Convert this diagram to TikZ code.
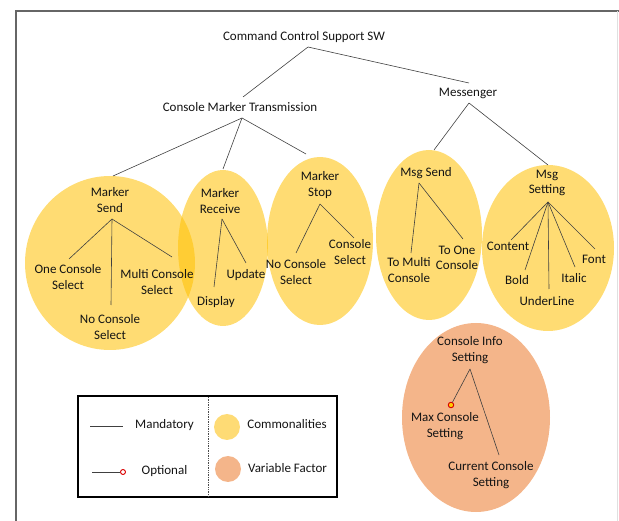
\documentclass[tikz,border=0pt]{standalone}
\usepackage{fontspec}
\setmainfont{Carlito}
\begin{document}
\begin{tikzpicture}[x=1pt,y=-1pt,
  lbl/.style={font=\fontsize{13}{15.5}\selectfont, text=black!92, align=center, inner sep=0pt},
  link/.style={draw=black!75, line width=0.6pt},
  common/.style={fill=commonfill, fill opacity=0.55},
  varfactor/.style={fill=variablefill},
  optdot/.style={circle, draw=red!85!black, line width=0.9pt, minimum size=5.5pt, inner sep=0pt},
  frame/.style={draw=black!60, line width=2pt}
]
\definecolor{commonfill}{HTML}{FFC000}
\definecolor{variablefill}{HTML}{F4B58A}
\definecolor{legendyellow}{HTML}{FEDB75}
\useasboundingbox (0,0) rectangle (619,521);

% page frame
\draw[frame] (16,521) -- (16,11) -- (619,11);
\draw[black!12, line width=0.8pt] (617.5,11) -- (617.5,521);

% feature groups
\path[common] (110,263) ellipse [x radius=85, y radius=87];
\path[common] (223,248) ellipse [x radius=45, y radius=78];
\path[common] (320,241) ellipse [x radius=53, y radius=84];
\path[common] (429,235) ellipse [x radius=53, y radius=85];
\path[common] (548,248) ellipse [x radius=66, y radius=83];
\path[varfactor] (476,417.5) ellipse [x radius=74, y radius=94.5];

% labels
\node[lbl] (root) at (304,37) {Command Control Support SW};
\node[lbl] (cmt) at (240,107) {Console Marker Transmission};
\node[lbl] (msgr) at (468,93) {Messenger};

\node[lbl] (msend) at (110,200) {Marker\\Send};
\node[lbl] (onesel) at (68,277) {One Console\\Select};
\node[lbl] (multisel) at (157,282) {Multi Console\\Select};
\node[lbl] (nosel) at (110,327) {No Console\\Select};

\node[lbl] (mrecv) at (220,201) {Marker\\Receive};
\node[lbl] (disp) at (216,302) {Display};
\node[lbl] (upd) at (246,275) {Update};

\node[lbl] (mstop) at (320,185) {Marker\\Stop};
\node[lbl] (stopno) at (296,272) {No Console\\Select};
\node[lbl] (stopsel) at (350,252) {Console\\Select};

\node[lbl] (msgsend) at (426,173) {Msg Send};
\node[lbl] (tomulti) at (409,270) {To Multi\\Console};
\node[lbl] (toone) at (457,258) {To One\\Console};

\node[lbl] (msgset) at (547,183) {Msg\\Setting};
\node[lbl] (content) at (508,246) {Content};
\node[lbl] (bold) at (517,280) {Bold};
\node[lbl] (uline) at (547,301) {UnderLine};
\node[lbl] (italic) at (574,278) {Italic};
\node[lbl] (font) at (594,259) {Font};

\node[lbl] (cinfo) at (470,350) {Console Info\\Setting};
\node[lbl] (maxset) at (445,426) {Max Console\\Setting};
\node[lbl] (curset) at (491,475) {Current Console\\Setting};

% connector end points
\coordinate (rootB) at (308,47);
\coordinate (cmtT) at (243,97);
\coordinate (msgrT) at (469,83);
\coordinate (cmtB) at (242,118);
\coordinate (msendT) at (113,176);
\coordinate (mrecvT) at (223,169);
\coordinate (mstopT) at (306,154);
\coordinate (msgrB) at (469,103);
\coordinate (msgsendT) at (434,150);
\coordinate (msgsetT) at (548,165);

\coordinate (msendB) at (112,219);
\coordinate (oneT) at (69,259);
\coordinate (noT) at (111,305);
\coordinate (multiT) at (172,257);

\coordinate (mrecvB) at (222,219);
\coordinate (dispT) at (214,287);
\coordinate (updT) at (246,263);

\coordinate (mstopB) at (320,204);
\coordinate (stopnoT) at (296,253);
\coordinate (stopselT) at (354,238);

\coordinate (msgsendB) at (419,183);
\coordinate (tomultiT) at (411,253);
\coordinate (tooneT) at (463,239);

\coordinate (msgsetB) at (548,202);
\coordinate (contentT) at (511,240);
\coordinate (boldT) at (525,270);
\coordinate (ulineT) at (549,289);
\coordinate (italicT) at (575,267);
\coordinate (fontT) at (595,249);

\coordinate (cinfoB) at (470,369);
\coordinate (curT) at (499,455);

% tree connectors
\draw[link] (rootB) -- (cmtT);
\draw[link] (rootB) -- (msgrT);
\draw[link] (cmtB) -- (msendT);
\draw[link] (cmtB) -- (mrecvT);
\draw[link] (cmtB) -- (mstopT);
\draw[link] (msgrB) -- (msgsendT);
\draw[link] (msgrB) -- (msgsetT);

\draw[link] (msendB) -- (oneT);
\draw[link] (msendB) -- (noT);
\draw[link] (msendB) -- (multiT);
\draw[link] (mrecvB) -- (dispT);
\draw[link] (mrecvB) -- (updT);
\draw[link] (mstopB) -- (stopnoT);
\draw[link] (mstopB) -- (stopselT);
\draw[link] (msgsendB) -- (tomultiT);
\draw[link] (msgsendB) -- (tooneT);
\draw[link] (msgsetB) -- (contentT);
\draw[link] (msgsetB) -- (boldT);
\draw[link] (msgsetB) -- (ulineT);
\draw[link] (msgsetB) -- (italicT);
\draw[link] (msgsetB) -- (fontT);

\node[optdot, fill=orange!40!yellow] (maxdot) at (451,405) {};
\draw[link] (cinfoB) -- (maxdot);
\draw[link] (cinfoB) -- (curT);

% legend
\node[draw=black, line width=2pt, minimum width=259pt, minimum height=101pt, inner sep=0pt] (legend) at (207.5,446.5) {};
\coordinate (divT) at (208,397);
\coordinate (divB) at (208,496);
\draw[black!70, densely dotted, line width=0.7pt] (divT) -- (divB);

\coordinate (mandA) at (90,426);
\coordinate (mandB) at (123,426);
\draw[link] (mandA) -- (mandB);
\node[lbl] (mandlbl) at (164.5,425) {Mandatory};

\coordinate (optA) at (92,472);
\node[optdot, fill=white, minimum size=5pt] (optdotL) at (123,472) {};
\draw[link] (optA) -- (optdotL);
\node[lbl] (optlbl) at (164.5,471) {Optional};

\path[fill=legendyellow] (227,427) ellipse [x radius=13, y radius=13];
\node[lbl] (comlbl) at (287,424) {Commonalities};
\path[varfactor] (228,469) ellipse [x radius=13, y radius=13];
\node[lbl] (varlbl) at (287.5,468) {Variable Factor};
\end{tikzpicture}
\end{document}
